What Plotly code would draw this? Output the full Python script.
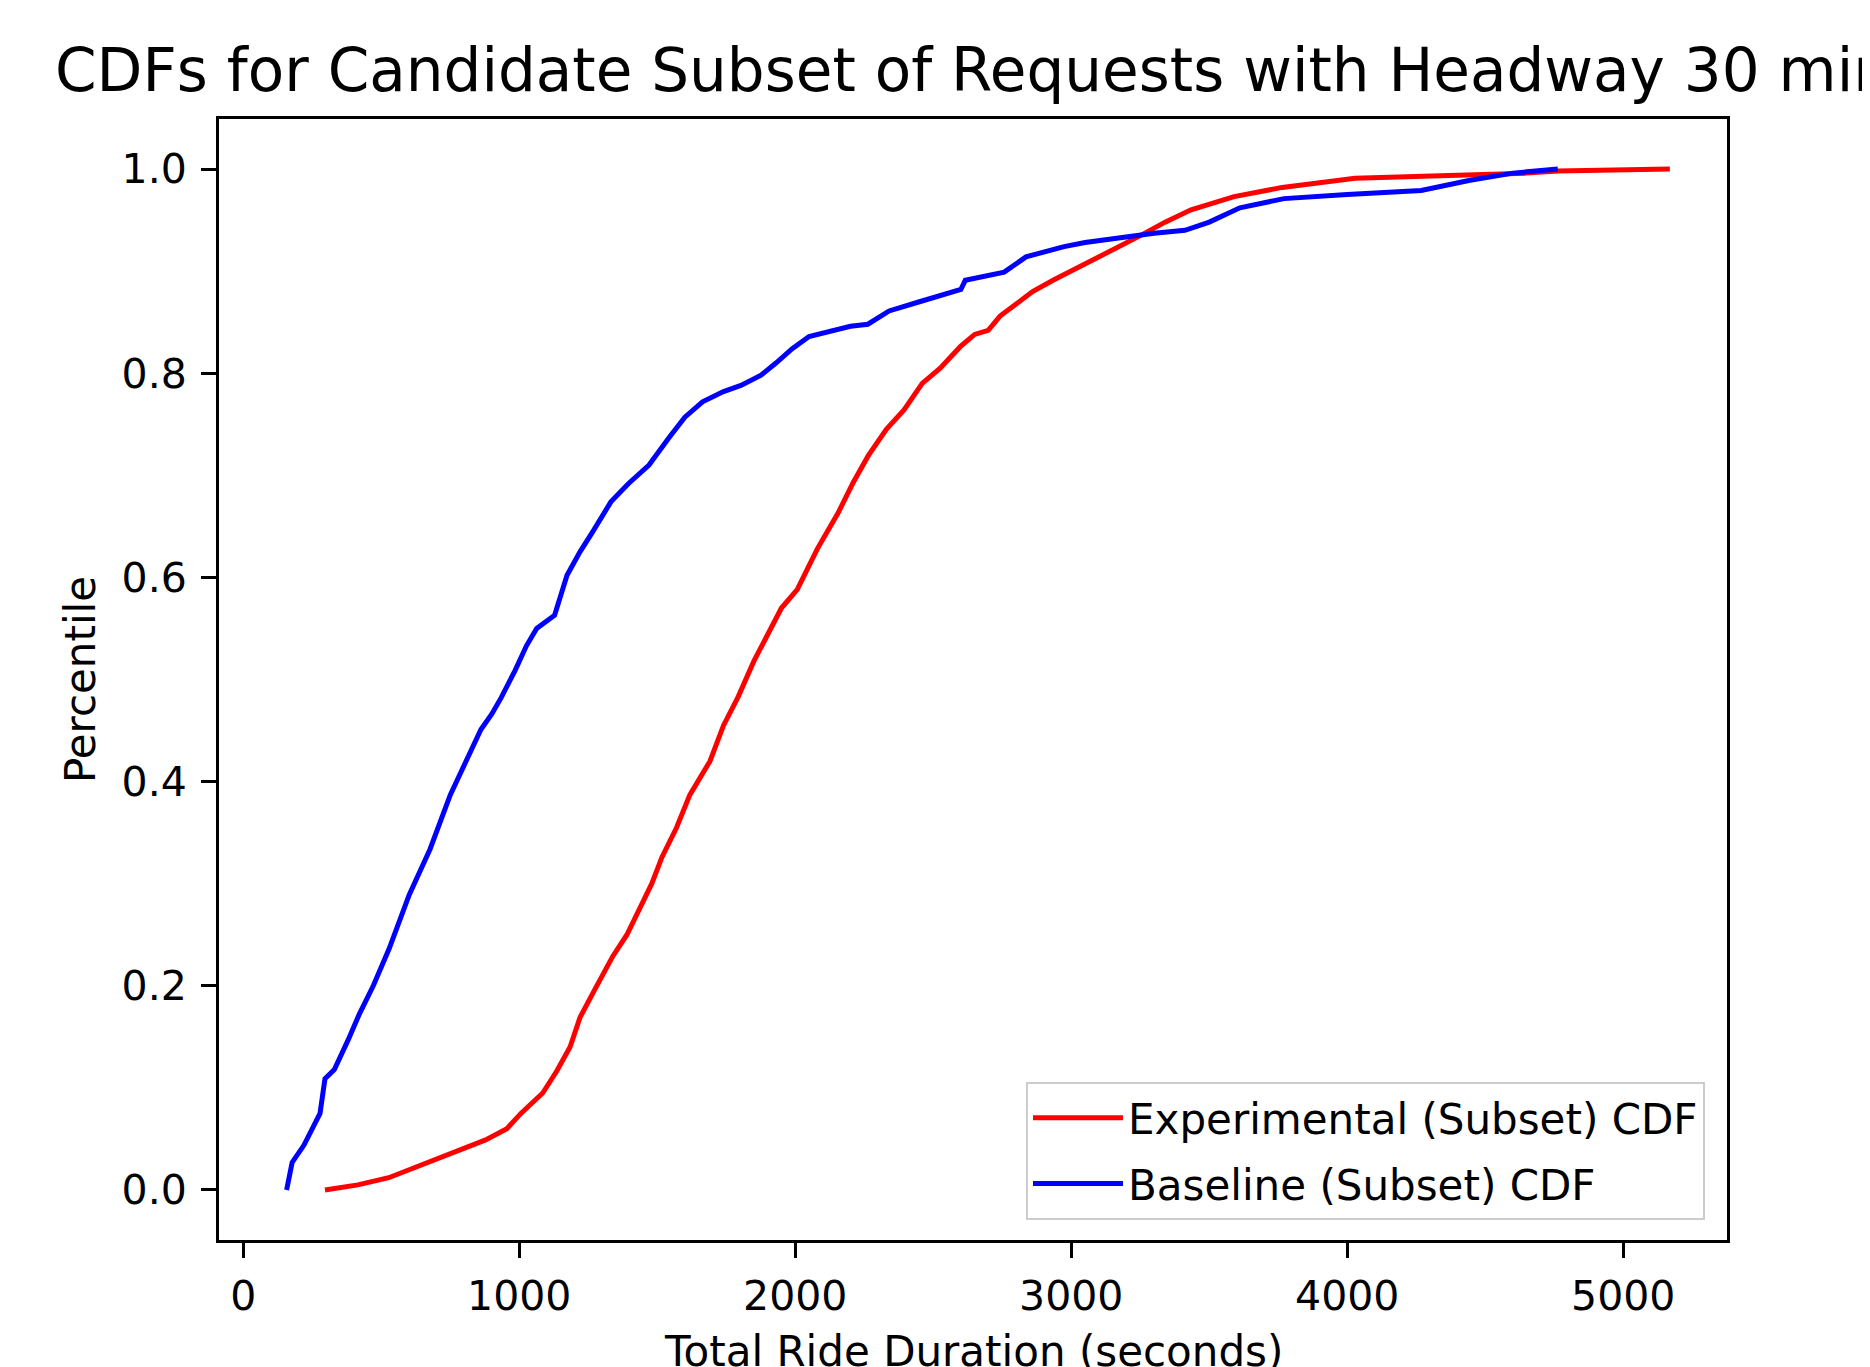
import plotly.graph_objects as go

# ---- data ----
baseline_x = [157, 177, 220, 251, 278, 296, 330, 380, 420, 471, 528, 601, 677, 750, 805, 861, 900, 934,
              985, 1026, 1063, 1128, 1173, 1220, 1267, 1332, 1396, 1470, 1543, 1600, 1664, 1740, 1803,
              1876, 1930, 1989, 2050, 2117, 2200, 2263, 2340, 2450, 2561, 2600, 2616, 2700, 2757, 2836,
              2974, 3050, 3174, 3300, 3412, 3500, 3611, 3700, 3771, 4000, 4268, 4445, 4600, 4763]
baseline_y = [0.000, 0.027, 0.044, 0.062, 0.075, 0.109, 0.118, 0.147, 0.172, 0.200, 0.236, 0.289, 0.334,
              0.387, 0.420, 0.451, 0.466, 0.482, 0.509, 0.533, 0.550, 0.563, 0.602, 0.625, 0.645, 0.674,
              0.692, 0.710, 0.737, 0.757, 0.772, 0.782, 0.788, 0.798, 0.810, 0.824, 0.836, 0.841, 0.846,
              0.848, 0.861, 0.870, 0.878, 0.882, 0.891, 0.896, 0.899, 0.914, 0.924, 0.928, 0.933, 0.937,
              0.940, 0.948, 0.962, 0.967, 0.971, 0.975, 0.979, 0.989, 0.996, 1.000]

experimental_x = [296, 415, 527, 631, 761, 878, 955, 1006, 1085, 1137, 1184, 1220, 1271, 1339, 1390, 1434,
                  1480, 1517, 1570, 1618, 1660, 1691, 1740, 1793, 1850, 1900, 1950, 2007, 2080, 2155, 2210,
                  2264, 2330, 2394, 2460, 2525, 2598, 2650, 2699, 2742, 2800, 2860, 2934, 3000, 3073, 3134,
                  3252, 3340, 3434, 3590, 3764, 4028, 4300, 4650, 4763, 5169]
experimental_y = [0.000, 0.005, 0.012, 0.023, 0.036, 0.049, 0.060, 0.075, 0.095, 0.117, 0.140, 0.169, 0.195,
                  0.229, 0.250, 0.274, 0.300, 0.326, 0.355, 0.387, 0.405, 0.420, 0.455, 0.483, 0.518, 0.545,
                  0.570, 0.588, 0.628, 0.663, 0.693, 0.719, 0.745, 0.764, 0.790, 0.805, 0.826, 0.838, 0.842,
                  0.856, 0.868, 0.880, 0.891, 0.900, 0.910, 0.918, 0.935, 0.948, 0.960, 0.973, 0.982, 0.991,
                  0.993, 0.996, 0.998, 1.000]

x_ticks = [0, 1000, 2000, 3000, 4000, 5000]
y_ticks = [0.0, 0.2, 0.4, 0.6, 0.8, 1.0]
y_tick_labels = ["0.0", "0.2", "0.4", "0.6", "0.8", "1.0"]

FONT = "DejaVu Sans"
TICK_SIZE = 41
LABEL_SIZE = 42

fig = go.Figure()
fig.add_trace(go.Scatter(x=experimental_x, y=experimental_y, mode="lines",
                         name="Experimental (Subset) CDF", legendgroup="a",
                         line=dict(color="#ff0000", width=5)))
fig.add_trace(go.Scatter(x=baseline_x, y=baseline_y, mode="lines",
                         name="Baseline (Subset) CDF", legendgroup="b",
                         line=dict(color="#0000ff", width=5)))

axis_common = dict(showline=True, linecolor="black", linewidth=3, mirror=True,
                   ticks="outside", ticklen=15, tickwidth=3, tickcolor="black",
                   showgrid=False, zeroline=False,
                   tickfont=dict(family=FONT, size=TICK_SIZE, color="black"))

fig.update_layout(
    width=1862, height=1359,
    paper_bgcolor="white", plot_bgcolor="white",
    margin=dict(l=211, r=143, t=111, b=127, autoexpand=False),
    font=dict(family=FONT, color="black"),
    title=dict(text="CDFs for Candidate Subset of Requests with Headway 30 min",
               font=dict(family=FONT, size=59.6, color="black"),
               x=(965.0 / 1862), xanchor="center", xref="container",
               y=1 - 62.0 / 1359, yanchor="middle", yref="container"),
    xaxis=dict(range=[-88, 5376], tickvals=x_ticks, ticktext=[str(v) for v in x_ticks],
               ticklabelstandoff=3, **axis_common),
    yaxis=dict(range=[-0.049, 1.049], tickvals=y_ticks, ticktext=y_tick_labels,
               title=dict(text="Percentile", font=dict(family=FONT, size=LABEL_SIZE, color="black"),
                          standoff=13),
               ticklabelstandoff=6, **axis_common),
    legend=dict(x=0.9854, y=0.0178, xanchor="right", yanchor="bottom",
                bgcolor="rgba(255,255,255,0.8)", bordercolor="#cccccc", borderwidth=2,
                font=dict(family=FONT, size=LABEL_SIZE, color="black"),
                itemwidth=90,
                traceorder="grouped", tracegroupgap=8),
    showlegend=True,
)

# x-axis title (placed as an annotation so it can sit at the very bottom edge, as in the reference)
fig.add_annotation(text="Total Ride Duration (seconds)", xref="paper", yref="paper",
                   x=0.5, y=-0.0758, xanchor="center", yanchor="top", showarrow=False,
                   font=dict(family=FONT, size=LABEL_SIZE, color="black"))

fig.write_html("out.html")
